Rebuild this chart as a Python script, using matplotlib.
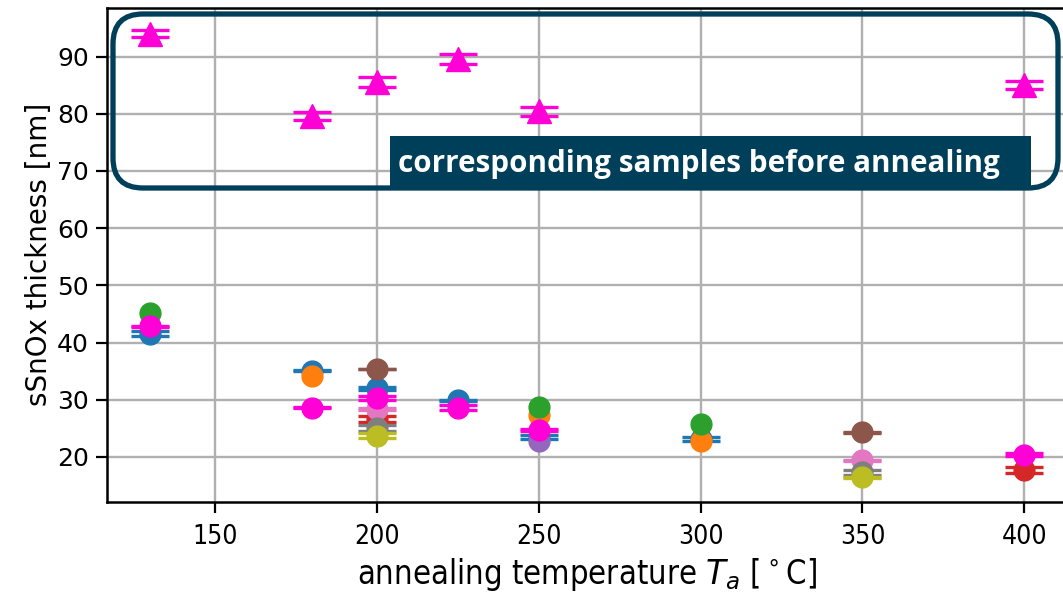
import matplotlib
matplotlib.use("Agg")
import matplotlib.pyplot as plt
from matplotlib.patches import FancyBboxPatch, Rectangle
from matplotlib.transforms import IdentityTransform

# ---- data (temperature, thickness, error) per sample ----
blue_T = [130, 180, 200, 225, 250, 300]
blue_d = [41.57, 35.1, 32.0, 29.9, 23.5, 23.2]
blue_e = [0.46, 0.05, 0.3, 0.05, 0.4, 0.35]

orange_T = [180, 250, 300]
orange_d = [34.1, 27.4, 22.8]

green_T = [130, 250, 300]
green_d = [45.1, 28.8, 25.7]

red_T = [200, 400]
red_d = [26.6, 17.7]
red_e = [0.5, 0.5]

purple_T = [250]
purple_d = [22.7]

brown_T = [200, 350]
brown_d = [35.4, 24.3]
brown_e = [0.05, 0.05]

pink_T = [200, 350]
pink_d = [28.4, 19.4]
pink_e = [0.2, 0.1]

grey_T = [200, 350]
grey_d = [25.0, 17.3]
grey_e = [0.5, 0.4]

olive_T = [200, 350]
olive_d = [23.7, 16.4]
olive_e = [0.4, 0.1]

mag_T = [130, 180, 200, 225, 250, 400]
mag_d = [42.8, 28.6, 30.3, 28.6, 24.7, 20.4]
mag_e = [0.05, 0.05, 0.3, 0.45, 0.25, 0.3]

before_T = [130, 180, 200, 225, 250, 400]
before_d = [94.05, 79.6, 85.6, 89.6, 80.45, 85.0]
before_e = [0.6, 0.73, 0.93, 0.85, 0.75, 0.7]

xticks = [150, 200, 250, 300, 350, 400]
yticks = [20, 30, 40, 50, 60, 70, 80, 90]
xlabel = "annealing temperature $T_a$ [$^\\circ$C]"
ylabel = "sSnOx thickness [nm]"
note = "corresponding samples before annealing"

MAG = "#ff00d6"
BOX = "#003f5a"

W, H = 1063, 592
fig = plt.figure(figsize=(W / 100, H / 100), dpi=100)
ax = fig.add_axes([106.7 / W, 1 - 502 / H, (1068 - 106.7) / W, (502 - 7.5) / H])

style = dict(markersize=15, capsize=14, capthick=2.4, elinewidth=2.4)
series = [
    (blue_T, blue_d, blue_e, "C0"),
    (orange_T, orange_d, None, "C1"),
    (green_T, green_d, None, "C2"),
    (red_T, red_d, red_e, "C3"),
    (purple_T, purple_d, None, "C4"),
    (brown_T, brown_d, brown_e, "C5"),
    (pink_T, pink_d, pink_e, "C6"),
    (grey_T, grey_d, grey_e, "C7"),
    (olive_T, olive_d, olive_e, "C8"),
    (mag_T, mag_d, mag_e, MAG),
]
for T, d, e, c in series:
    ax.errorbar(T, d, yerr=e, fmt="o", color=c, **style)

ax.errorbar(before_T, before_d, yerr=before_e, fmt="^", color=MAG,
            markersize=17.5, capsize=14, capthick=2.4, elinewidth=2.4)

ax.set_xlim(116.5, 413.5)
ax.set_ylim(12.1, 98.6)
ax.set_xticks(xticks)
ax.set_yticks(yticks)
ax.grid(True, color="#b0b0b0", linewidth=1.7)
ax.set_axisbelow(True)
for s in ax.spines.values():
    s.set_linewidth(1.8)
ax.tick_params(width=1.6, length=8)
ax.tick_params(axis="y", labelsize=18, pad=5)
ax.tick_params(axis="x", labelsize=19, pad=8)
for lab in ax.get_xticklabels():
    lab.set_fontstretch("condensed")
ax.set_xlabel(xlabel, fontsize=23.5, fontstretch="condensed", labelpad=4)
ax.set_ylabel(ylabel, fontsize=20, labelpad=3)

# rounded frame around "before annealing" points
frame = FancyBboxPatch((113 + 30, H - 188 + 30), (1058 - 113) - 60, (188 - 14) - 60,
                       boxstyle="round,pad=30", transform=IdentityTransform(),
                       fill=False, edgecolor=BOX, linewidth=3.8)
fig.add_artist(frame)
label_box = Rectangle((390, H - 190), 1031 - 390, 190 - 136,
                      transform=IdentityTransform(), facecolor=BOX, edgecolor="none")
fig.add_artist(label_box)
fig.text(699 / W, 1 - 164 / H, note, color="white", fontsize=21.3,
         fontweight="bold", family="Open Sans", ha="center", va="center")

fig.savefig("out.png", dpi=100)
